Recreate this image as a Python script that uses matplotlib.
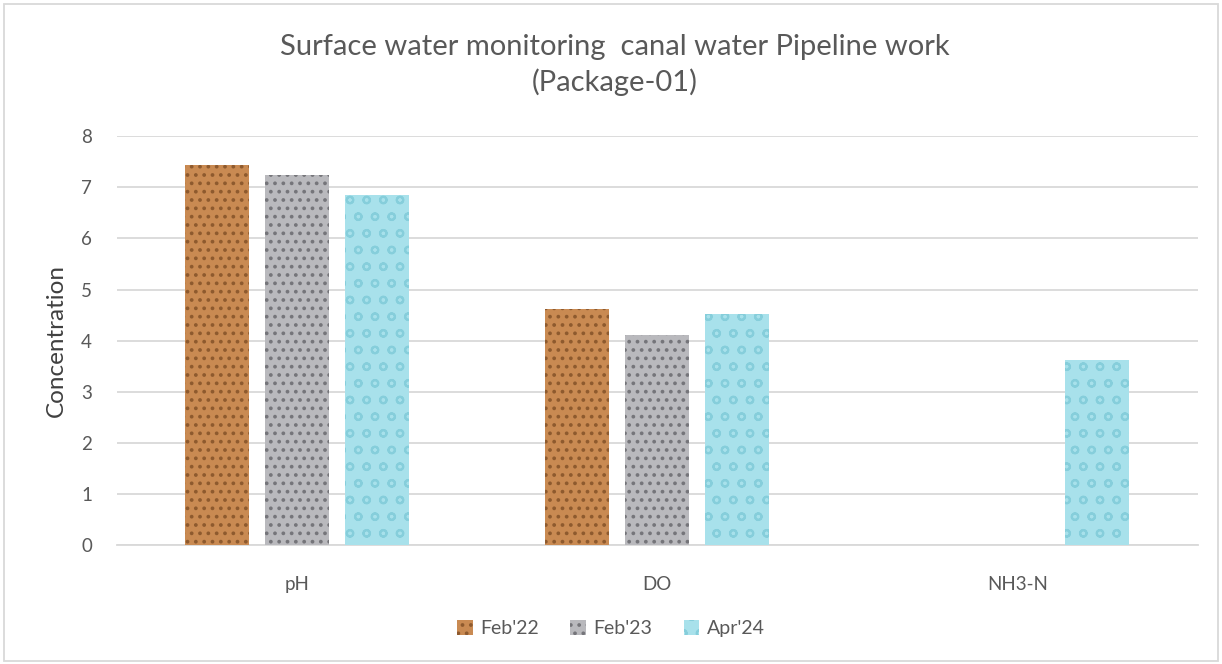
import numpy as np
import matplotlib
matplotlib.use("Agg")
import matplotlib.pyplot as plt
from matplotlib.patches import Rectangle

plt.rcParams["font.family"] = ["Lato", "DejaVu Sans"]
plt.rcParams["hatch.linewidth"] = 1.5

# data
categories = ["pH", "DO", "NH3-N"]
series_names = ["Feb'22", "Feb'23", "Apr'24"]
feb22 = [7.43, 4.62, np.nan]
feb23 = [7.24, 4.11, np.nan]
apr24 = [6.85, 4.52, 3.62]
yticks = [0, 1, 2, 3, 4, 5, 6, 7, 8]

# texture-ish styles (face colour, speckle colour, hatch)
styles = [
    ("#C98A52", "#8E5A2E", ".."),
    ("#B9B9BD", "#75757A", ".."),
    ("#A8E1EB", "#86CEDB", "o"),
]

fig = plt.figure(figsize=(12.22, 6.64), dpi=100)
ax = fig.add_axes([0.0957, 0.179, 0.8843, 0.616])

x = np.arange(len(categories))
width = 0.178
step = 0.222
for i, (vals, name) in enumerate(zip([feb22, feb23, apr24], series_names)):
    face, speck, hatch = styles[i]
    ax.bar(x + (i - 1) * step, vals, width, color=face, edgecolor=speck,
           hatch=hatch, linewidth=0, label=name, zorder=3)

ax.set_xlim(-0.5, 2.5)
ax.set_ylim(0, 8)
ax.set_yticks(yticks)
ax.set_xticks(x)
ax.set_xticklabels(categories)
ax.grid(axis="y", color="#D9D9D9", linewidth=1.3, zorder=0)
ax.tick_params(axis="both", length=0, labelsize=13.5, colors="#595959")
ax.tick_params(axis="x", pad=22)
ax.tick_params(axis="y", pad=18)
for side in ["top", "right", "left"]:
    ax.spines[side].set_visible(False)
ax.spines["bottom"].set_color("#D9D9D9")
ax.spines["bottom"].set_linewidth(1.3)

ax.set_ylabel("Concentration", fontsize=17.5, color="#404040", labelpad=10)

fig.text(0.503, 0.902, "Surface water monitoring  canal water Pipeline work\n(Package-01)",
         ha="center", va="center", fontsize=21, color="#595959", linespacing=1.4)

fig.legend(loc="center", bbox_to_anchor=(0.5, 0.053), ncol=3, frameon=False,
           fontsize=14, labelcolor="#595959", handlelength=0.8, handleheight=0.8,
           columnspacing=1.6, handletextpad=0.4)

fig.patches.append(Rectangle((0.003, 0.004), 0.994, 0.99, transform=fig.transFigure,
                             fill=False, edgecolor="#D9D9D9", linewidth=1.3))

fig.savefig("out.png", dpi=100)
